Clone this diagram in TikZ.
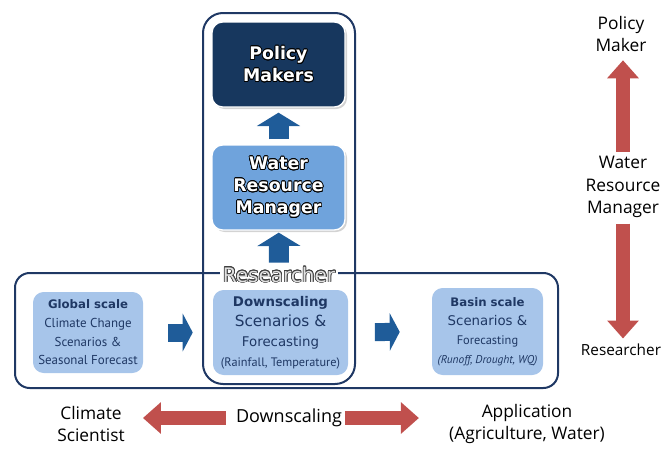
\documentclass[tikz,border=0pt]{standalone}
\usepackage{fontspec}
\setmainfont{DejaVu Sans}
\newfontfamily\narrowfont{PT Sans}
\newfontfamily\labelfont{Open Sans}
\usepackage[copies]{contour}
\contourlength{0.55pt}
\usetikzlibrary{arrows.meta}
\usetikzlibrary{shadows}
\definecolor{navy}{HTML}{1F3864}
\definecolor{pmblue}{HTML}{17375E}
\definecolor{wrmblue}{HTML}{6FA3DC}
\definecolor{lightbox}{HTML}{A7C5EA}
\definecolor{arrowblue}{HTML}{1F5C99}
\definecolor{arrowred}{HTML}{C0504D}
\newcommand{\outl}[1]{\contour{black}{#1}}
\newcommand{\hd}{\rmfamily\fontsize{8.8}{11}\selectfont\bfseries}
\newcommand{\nf}{\narrowfont}

\begin{document}
\begin{tikzpicture}[x=0.75pt, y=-0.75pt,
  frame/.style={draw=navy, line width=1.5pt},
  topbox/.style={rounded corners=8pt, draw=white, line width=1pt, minimum width=99.75pt, minimum height=63.75pt,
    align=center, text=white, font=\fontsize{13}{16.5}\selectfont\bfseries,
    drop shadow={opacity=0.35, shadow xshift=1.5pt, shadow yshift=-1.5pt}},
  lowbox/.style={fill=lightbox, rounded corners=8pt, align=center, text=navy, inner sep=0pt},
  side/.style={align=center, inner sep=0pt, font=\labelfont\fontsize{13}{17}\selectfont},
  bluearrow/.style={draw=arrowblue, line width=15pt, -{Triangle[width=32pt, length=10pt]}},
  bluerarrow/.style={draw=arrowblue, line width=13.5pt, -{Triangle[width=28pt, length=7.5pt]}},
  redarrow/.style={draw=arrowred, line width=11pt, -{Triangle[width=23pt, length=13.5pt]}}]

\useasboundingbox (0,0) rectangle (672,457);

\draw[frame, rounded corners=15pt] (203,13) rectangle (355,384);
\draw[frame, rounded corners=11pt] (15,273) rectangle (558,388);

\node[fill=white, inner sep=2pt, text=white!88!black, font=\fontsize{15}{17}\selectfont] (res) at (279,275) {\contour{black!75}{Researcher}};

\node[topbox, fill=pmblue] (pm) at (278.5,64.5) {\outl{Policy}\\\outl{Makers}};
\node[topbox, fill=wrmblue] (wrm) at (278.5,187.5) {\outl{Water}\\\outl{Resource}\\\outl{Manager}};

\node[lowbox, minimum width=82.5pt, minimum height=60.75pt, font=\nf\fontsize{9.7}{14}\selectfont] (gs) at (88,332.5)
  {{\hd Global scale}\\{\nf Climate Change}\\{\nf Scenarios \&}\\{\nf Seasonal Forecast}};
\node[lowbox, minimum width=101.25pt, minimum height=63.75pt, font=\fontsize{10}{15}\selectfont] (ds) at (280.5,332.5)
  {{\hd\fontsize{10}{12}\selectfont Downscaling}\\{\fontsize{11.5}{14}\selectfont Scenarios \&}\\{\fontsize{10}{12}\selectfont Forecasting}\\{\nf\fontsize{9.2}{11}\selectfont (Rainfall, Temperature)}};
\node[lowbox, minimum width=83.25pt, minimum height=65.25pt, font=\fontsize{10}{14.25}\selectfont] (bs) at (487.5,331.5)
  {{\hd Basin scale}\\{\fontsize{10}{12}\selectfont Scenarios \&}\\{\nf\fontsize{9.3}{11}\selectfont Forecasting}\\{\nf\itshape\fontsize{8.5}{10}\selectfont (Runoff, Drought, WQ)}};

\draw[bluearrow, shorten <=3.75pt, shorten >=3.75pt] (wrm) -- (pm);
\draw[bluearrow, shorten <=1pt, shorten >=1.5pt] (res) -- (wrm);
\draw[bluerarrow, shorten <=18.75pt, shorten >=15pt] (gs) -- (ds);
\draw[bluerarrow, shorten <=20pt, shorten >=24pt] (ds) -- (bs);

\node[side] (rpm) at (621,34) {Policy\\Maker};
\node[side] (rwrm) at (623,187) {Water\\Resource\\Manager};
\node[side, font=\labelfont\fontsize{11.5}{14}\selectfont] (rres) at (621,350) {Researcher};
\draw[redarrow, shorten <=3pt, shorten >=6pt] (rwrm.north) -- (rwrm.north |- rpm.south);
\draw[redarrow, shorten <=4pt, shorten >=4pt] (rwrm.south) -- (rwrm.south |- rres.north);

\node[side] (cs) at (91,424) {Climate\\Scientist};
\node[side, font=\labelfont\fontsize{13.5}{16}\selectfont] (dsc) at (289,418) {Downscaling};
\node[side] (app) at (527,424) {Application\\(Agriculture, Water)};
\draw[redarrow, shorten <=7.5pt, shorten >=13.5pt] (dsc.west) -- (dsc.west -| cs.east);
\draw[redarrow, shorten <=2pt, shorten >=22.5pt] (dsc.east) -- (dsc.east -| app.west);
\end{tikzpicture}
\end{document}
